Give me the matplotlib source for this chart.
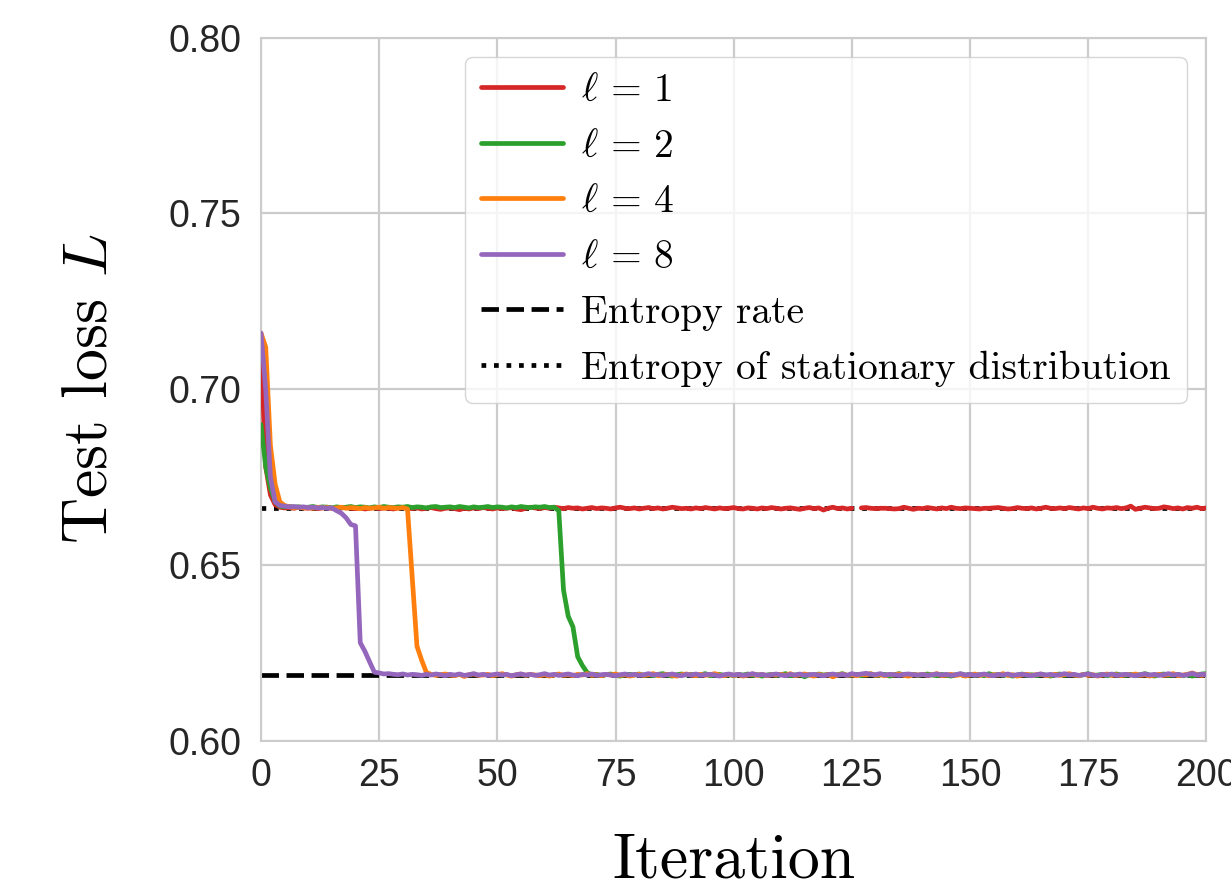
import numpy as np
import matplotlib
matplotlib.use("Agg")
import matplotlib.pyplot as plt
import seaborn as sns

# test loss per iteration, in units of 1e-4
red = [7120, 6780, 6700, 6672, 6665, 6663, 6664, 6662, 6665, 6663,
       6662, 6664, 6661, 6663, 6665, 6662, 6660, 6663, 6664, 6662,
       6661, 6663, 6660, 6662, 6664, 6661, 6663, 6662, 6660, 6663,
       6664, 6662, 6661, 6663, 6660, 6662, 6664, 6661, 6659, 6662,
       6663, 6661, 6658, 6662, 6660, 6663, 6661, 6664, 6662, 6660,
       6663, 6661, 6662, 6664, 6660, 6658, 6662, 6665, 6663, 6661,
       6664, 6662, 6665, 6663, 6661, 6664, 6662, 6663, 6660, 6662,
       6664, 6661, 6663, 6662, 6660, 6663, 6665, 6662, 6661, 6663,
       6660, 6662, 6664, 6661, 6663, 6660, 6662, 6665, 6663, 6661,
       6662, 6660, 6663, 6661, 6664, 6662, 6660, 6663, 6661, 6662,
       6664, 6661, 6660, 6663, 6662, 6660, 6663, 6661, 6664, 6662,
       6660, 6662, 6663, 6661, 6659, 6662, 6664, 6661, 6663, 6657,
       6662, 6665, 6661, 6663, 6660, 6662, np.nan, 6663, 6664, 6662,
       6661, 6662, 6662, 6661, 6660, 6661, 6665, 6662, 6659, 6662,
       6661, 6664, 6662, 6660, 6663, 6661, 6665, 6662, 6661, 6663,
       6662, 6661, 6660, 6662, 6662, 6663, 6664, 6662, 6660, 6661,
       6664, 6662, 6661, 6663, 6660, 6662, 6665, 6662, 6661, 6663,
       6661, 6664, 6662, 6660, 6663, 6661, 6665, 6662, 6660, 6663,
       6662, 6664, 6661, 6663, 6668, 6659, 6662, 6665, 6663, 6661,
       6662, 6666, 6664, 6661, 6663, 6660, 6664, 6662, 6665, 6661,
       6663]

green = [6900, 6780, 6720, 6680, 6668, 6666, 6667, 6665, 6666, 6664,
         6665, 6667, 6664, 6666, 6665, 6663, 6666, 6664, 6665, 6667,
         6664, 6666, 6665, 6663, 6666, 6664, 6667, 6665, 6664, 6666,
         6665, 6667, 6664, 6666, 6665, 6663, 6666, 6667, 6664, 6665,
         6666, 6664, 6667, 6665, 6663, 6666, 6664, 6665, 6667, 6664,
         6666, 6665, 6663, 6666, 6664, 6667, 6665, 6664, 6666, 6665,
         6667, 6664, 6665, 6655, 6430, 6355, 6325, 6240, 6215, 6195,
         6188, 6190, 6186, 6189, 6191, 6187, 6185, 6189, 6190, 6188,
         6191, 6187, 6189, 6186, 6190, 6192, 6188, 6185, 6189, 6191,
         6188, 6190, 6187, 6189, 6192, 6186, 6188, 6190, 6187, 6189,
         6186, 6190, 6188, 6191, 6187, 6189, 6185, 6188, 6190, 6187,
         6189, 6192, 6186, 6188, 6190, 6183, 6189, 6187, 6191, 6188,
         6190, 6186, 6189, 6192, 6187, 6188, 6190, 6186, 6189, 6191,
         6187, 6188, 6190, 6185, 6189, 6192, 6188, 6186, 6190, 6187,
         6189, 6191, 6188, 6186, 6190, 6187, 6185, 6189, 6191, 6188,
         6190, 6187, 6189, 6186, 6192, 6188, 6190, 6187, 6189, 6185,
         6188, 6191, 6187, 6189, 6186, 6190, 6188, 6185, 6189, 6191,
         6187, 6190, 6188, 6186, 6189, 6192, 6187, 6188, 6190, 6186,
         6189, 6191, 6188, 6187, 6190, 6186, 6189, 6192, 6188, 6185,
         6189, 6191, 6187, 6188, 6190, 6186, 6189, 6185, 6188, 6191,
         6192]

orange = [7160, 7120, 6840, 6730, 6680, 6670, 6666, 6664, 6665, 6663,
          6664, 6662, 6665, 6663, 6664, 6662, 6663, 6665, 6662, 6664,
          6663, 6661, 6664, 6662, 6663, 6665, 6662, 6664, 6663, 6662,
          6664, 6660, 6465, 6270, 6230, 6195, 6190, 6187, 6189, 6191,
          6188, 6186, 6190, 6184, 6189, 6191, 6187, 6188, 6190, 6186,
          6189, 6192, 6188, 6185, 6189, 6191, 6187, 6190, 6188, 6186,
          6189, 6185, 6188, 6191, 6187, 6189, 6186, 6190, 6188, 6192,
          6187, 6189, 6186, 6190, 6188, 6191, 6187, 6189, 6185, 6188,
          6190, 6187, 6189, 6192, 6186, 6188, 6190, 6187, 6185, 6189,
          6191, 6188, 6186, 6190, 6187, 6189, 6192, 6188, 6186, 6190,
          6187, 6189, 6185, 6188, 6191, 6187, 6190, 6186, 6189, 6188,
          6190, 6187, 6192, 6186, 6189, 6191, 6188, 6185, 6190, 6187,
          6189, 6183, 6188, 6191, 6187, 6189, 6186, 6190, 6188, 6192,
          6187, 6189, 6186, 6190, 6188, 6191, 6187, 6185, 6189, 6188,
          6190, 6187, 6189, 6192, 6186, 6188, 6190, 6187, 6189, 6185,
          6188, 6191, 6187, 6190, 6186, 6189, 6188, 6192, 6187, 6189,
          6185, 6188, 6190, 6187, 6189, 6191, 6186, 6188, 6190, 6187,
          6189, 6192, 6188, 6186, 6190, 6187, 6189, 6185, 6188, 6191,
          6187, 6189, 6186, 6190, 6188, 6191, 6187, 6189, 6185, 6188,
          6190, 6187, 6189, 6192, 6186, 6188, 6190, 6194, 6189, 6187,
          6190]

purple = [7160, 7000, 6750, 6680, 6670, 6668, 6666, 6667, 6665, 6666,
          6664, 6665, 6663, 6664, 6662, 6663, 6655, 6648, 6635, 6616,
          6612, 6280, 6255, 6225, 6196, 6194, 6191, 6192, 6190, 6189,
          6191, 6188, 6190, 6189, 6187, 6190, 6188, 6191, 6189, 6186,
          6190, 6188, 6191, 6187, 6189, 6192, 6188, 6190, 6187, 6189,
          6191, 6188, 6190, 6186, 6189, 6191, 6188, 6190, 6187, 6189,
          6192, 6188, 6190, 6187, 6189, 6191, 6188, 6186, 6190, 6188,
          6191, 6187, 6189, 6190, 6188, 6186, 6189, 6191, 6188, 6190,
          6187, 6189, 6192, 6188, 6190, 6187, 6189, 6191, 6188, 6186,
          6190, 6188, 6191, 6187, 6189, 6190, 6188, 6185, 6189, 6191,
          6188, 6190, 6187, 6189, 6192, 6188, 6190, 6187, 6189, 6191,
          6188, 6186, 6190, 6188, 6191, 6187, 6189, 6190, 6188, 6186,
          6189, 6191, 6188, 6190, 6187, 6192, 6189, 6191, 6193, 6190,
          6189, 6192, 6188, 6190, 6189, 6187, 6190, 6191, 6189, 6188,
          6190, 6187, 6189, 6191, 6188, 6190, 6187, 6189, 6192, 6188,
          6190, 6187, 6189, 6191, 6188, 6186, 6190, 6188, 6191, 6187,
          6189, 6190, 6188, 6186, 6189, 6191, 6188, 6190, 6187, 6189,
          6192, 6188, 6190, 6187, 6189, 6191, 6188, 6186, 6190, 6188,
          6191, 6187, 6189, 6190, 6188, 6186, 6189, 6191, 6188, 6190,
          6187, 6189, 6192, 6188, 6190, 6187, 6189, 6193, 6188, 6190,
          6189]

series = [(red, "tab:red", r"$\ell\,=\,1$"),
          (green, "tab:green", r"$\ell\,=\,2$"),
          (orange, "tab:orange", r"$\ell\,=\,4$"),
          (purple, "tab:purple", r"$\ell\,=\,8$")]

entropy_rate = 0.6188
entropy_stat = 0.6662

sns.set_style("whitegrid")
plt.rcParams["font.family"] = ["Liberation Sans", "DejaVu Sans"]
plt.rcParams["mathtext.fontset"] = "cm"
plt.rcParams["axes.unicode_minus"] = False

fig = plt.figure(figsize=(12.31, 8.93), dpi=100)
ax = fig.add_axes([0.212, 0.170, 0.768, 0.788])

for vals, col, lab in series:
    y = np.array(vals, dtype=float) / 10000.0
    x = np.arange(len(y))
    ax.plot(x, y, color=col, lw=3.4, label=lab, zorder=3)

ax.plot([0, 200], [entropy_rate, entropy_rate], color="black", ls="--",
        lw=3.4, label="Entropy rate", zorder=2)
ax.plot([0, 200], [entropy_stat, entropy_stat], color="black", ls=":",
        lw=3.4, label="Entropy of stationary distribution", zorder=2)

ax.set_xlim(0, 200)
ax.set_ylim(0.60, 0.80)
ax.set_xticks(np.arange(0, 201, 25))
ax.set_yticks([0.60, 0.65, 0.70, 0.75, 0.80])
ax.set_yticklabels(["0.60", "0.65", "0.70", "0.75", "0.80"])
ax.tick_params(axis="both", labelsize=27, colors=".15", length=0)
ax.tick_params(axis="y", pad=14)
ax.tick_params(axis="x", pad=12)
for s in ax.spines.values():
    s.set_color("#cccccc")
    s.set_linewidth(1.5)
ax.grid(color="#cccccc", lw=1.6)

ax.set_xlabel("Iteration", fontsize=46, family="cmr10", color="black", labelpad=28)
ax.set_ylabel(r"Test loss $L$", fontsize=46, family="cmr10", color="black", labelpad=35)

leg = ax.legend(loc="upper right", prop={"family": "cmr10", "size": 28.4},
                handlelength=2.08, handletextpad=0.46, frameon=True,
                labelspacing=0.5)
leg.get_frame().set_edgecolor("#cccccc")
for t in leg.get_texts():
    t.set_color("black")

fig.savefig("out.png", dpi=100)
